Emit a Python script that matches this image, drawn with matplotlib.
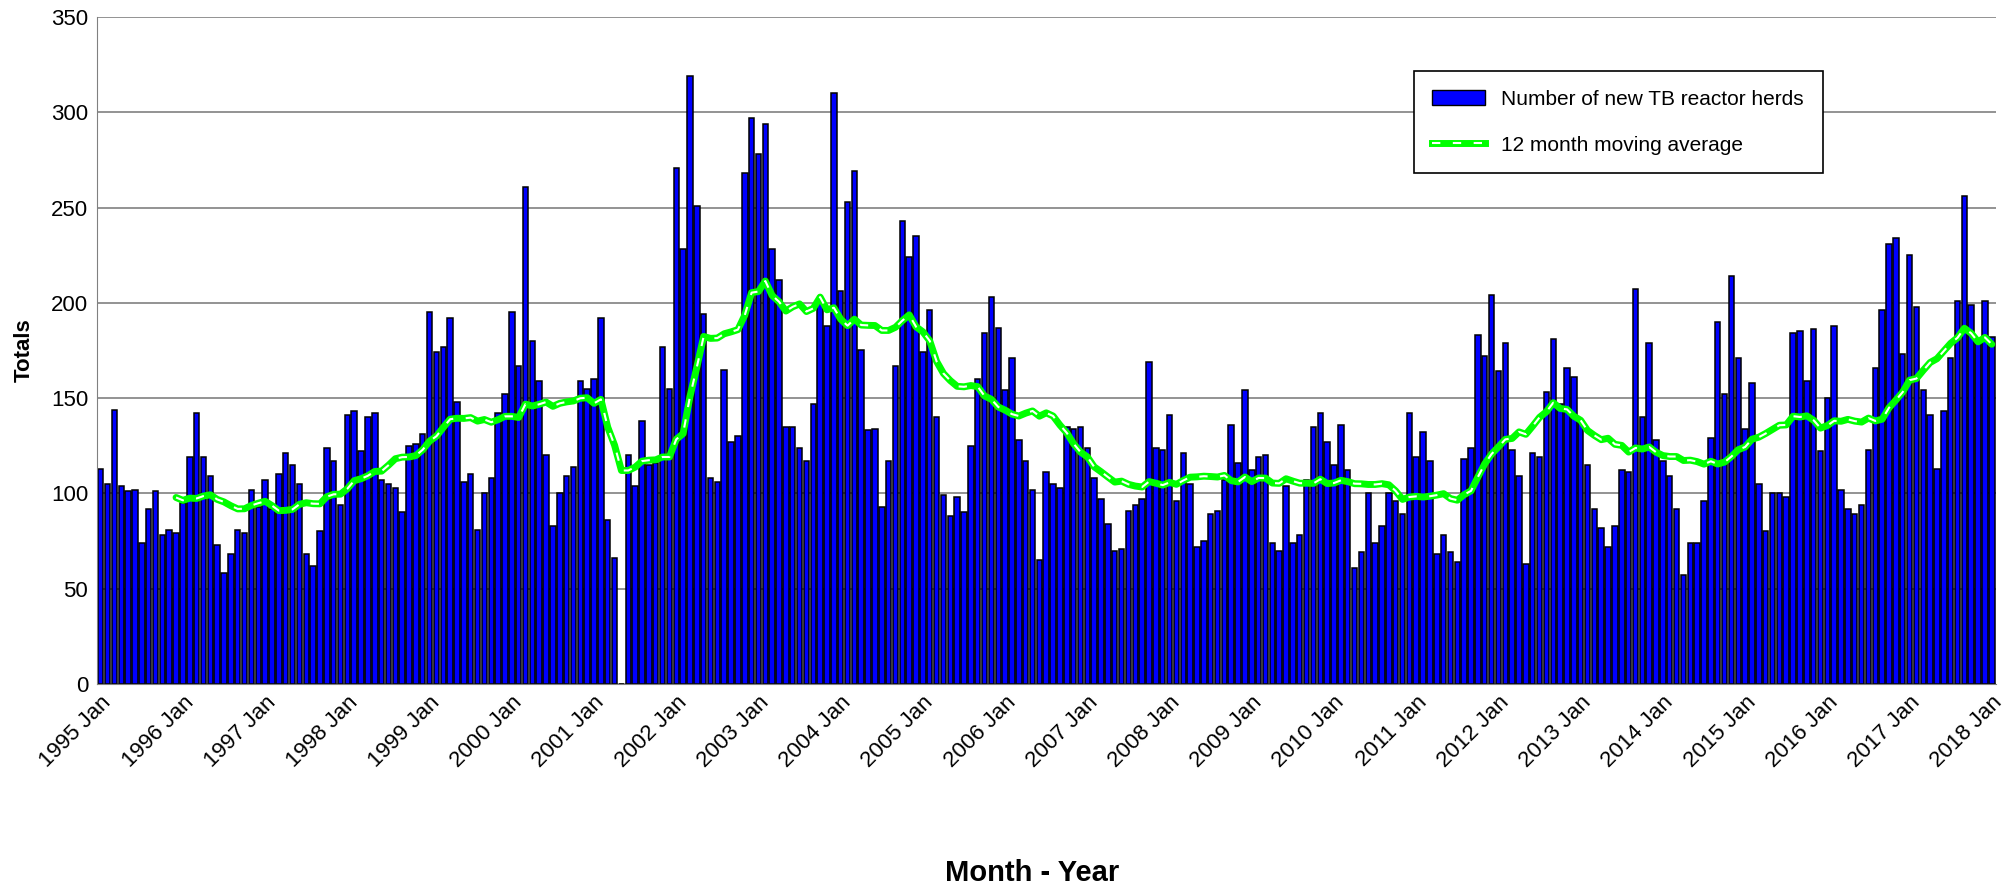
import matplotlib
matplotlib.use("Agg")
import matplotlib.pyplot as plt
import numpy as np
import pandas as pd
from matplotlib.lines import Line2D
from matplotlib.patches import Patch

years = list(range(1995, 2019))
herds = [
113,105,144,104,101,102,74,92,101,78,81,79,
95,119,142,119,109,73,58,68,81,79,102,93,
107,92,110,121,115,105,68,62,80,124,117,94,
141,143,122,140,142,107,105,103,90,125,126,131,
195,174,177,192,148,106,110,81,100,108,142,152,
195,167,261,180,159,120,83,100,109,114,159,155,
160,192,86,66,0,120,104,138,115,116,177,155,
271,228,319,251,194,108,106,165,127,130,268,297,
278,294,228,212,135,135,124,117,147,201,188,310,
206,253,269,175,133,134,93,117,167,243,224,235,
174,196,140,99,88,98,90,125,160,184,203,187,
154,171,128,117,102,65,111,105,103,135,134,135,
124,108,97,84,70,71,91,94,97,169,124,123,
141,96,121,105,72,75,89,91,107,136,116,154,
112,119,120,74,70,104,74,78,107,135,142,127,
115,136,112,61,69,100,74,83,100,96,89,142,
119,132,117,68,78,69,64,118,124,183,172,204,
164,179,123,109,63,121,119,153,181,147,166,161,
138,115,92,82,72,83,112,111,207,140,179,128,
117,109,92,57,74,74,96,129,190,152,214,171,
134,158,105,80,100,100,98,184,185,159,186,122,
150,188,102,92,89,94,123,166,196,231,234,173,
225,198,154,141,113,143,171,201,256,199,180,201,
182,
]
tick_labels = [f"{y} Jan" for y in years]

plt.rcParams['font.family'] = ['Liberation Sans', 'DejaVu Sans']
fig = plt.figure(figsize=(20.12, 8.94), dpi=100)
ax = fig.add_axes([0.048, 0.235, 0.944, 0.746])

n = len(herds)
x = np.arange(n)
ma = pd.Series(herds).rolling(12).mean()

ax.bar(x, herds, width=0.8, color='#0000FF', edgecolor='black', linewidth=1.1, zorder=2)
ax.plot(x, ma, color='#00FF00', lw=5, zorder=3, solid_capstyle='round')
ax.plot(x, ma, color='white', lw=1.5, ls=(0, (4, 6)), zorder=4)

ax.set_ylim(0, 350)
ax.set_yticks(range(0, 351, 50))
ax.set_xlim(-0.6, n - 0.4)
ax.set_xticks(np.arange(0, 12 * len(years), 12))
ax.set_xticklabels(tick_labels, rotation=45, ha='right', rotation_mode='anchor')
ax.tick_params(labelsize=16, length=0, pad=6)
ax.grid(axis='y', color='#808080', lw=1.2, zorder=0)
for s in ['top', 'right']:
    ax.spines[s].set_visible(False)
ax.spines['left'].set_color('#808080')
ax.spines['bottom'].set_color('#808080')

ax.set_ylabel('Totals', fontsize=16, fontweight='bold', labelpad=12)
fig.text(0.513, 0.015, 'Month - Year', fontsize=21, fontweight='bold', ha='center')

h1 = Patch(facecolor='#0000FF', edgecolor='black')
h2 = (Line2D([], [], color='#00FF00', lw=5), Line2D([], [], color='white', lw=1.5, ls=(0, (4, 6))))
leg = ax.legend([h1, h2], ['Number of new TB reactor herds', '12 month moving average'],
                loc='upper left', bbox_to_anchor=(0.688, 0.935), fontsize=15,
                frameon=True, fancybox=False, edgecolor='black', framealpha=1,
                labelspacing=1.3, borderpad=0.9, handlelength=2.5)
leg.get_frame().set_linewidth(1.2)

fig.savefig('out.png', dpi=100, facecolor='white')
